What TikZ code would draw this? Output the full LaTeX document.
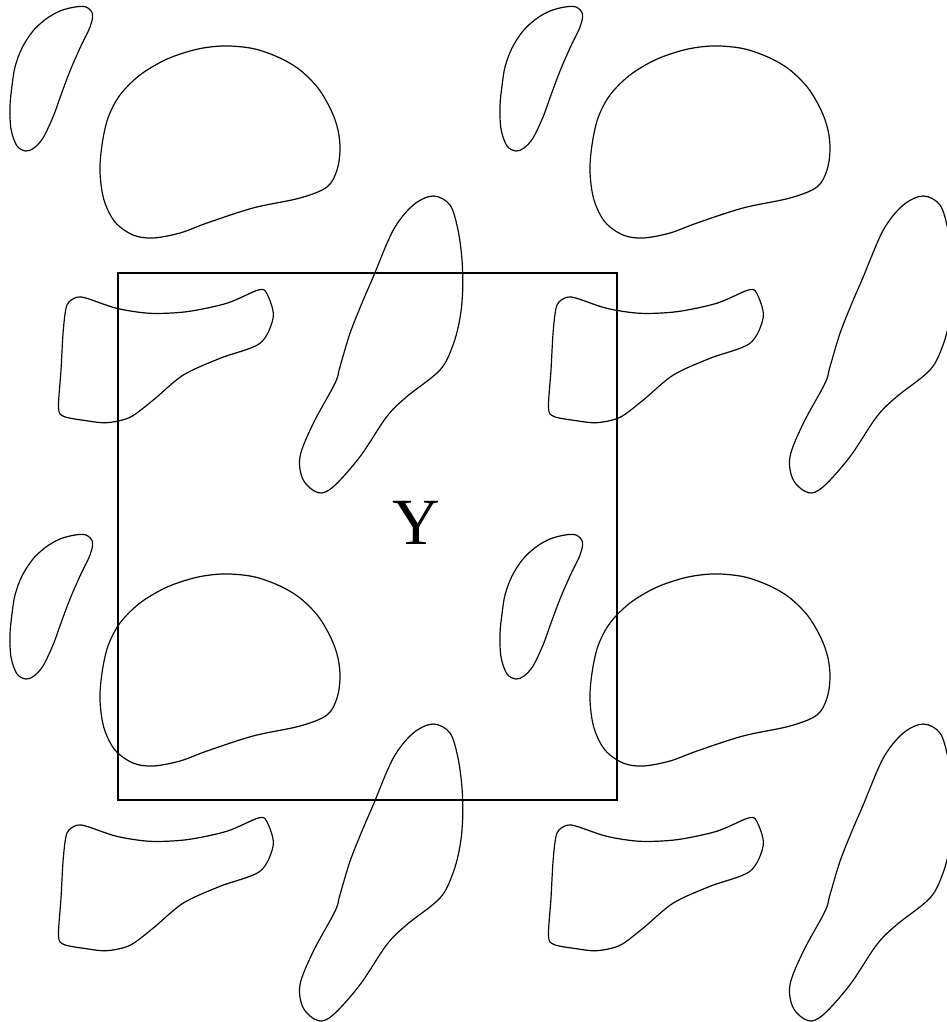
\documentclass[tikz,border=0pt]{standalone}
\usepackage{fontspec}
\setmainfont{Liberation Serif}
\begin{document}
\begin{tikzpicture}[x=1pt,y=-1pt,
  blob/.style={draw=black,line width=1.2pt},
  cellbox/.style={draw=black,line width=1.3pt}]
\useasboundingbox (0,0) rectangle (947,1022);
\clip (0,0) rectangle (947,1022);
\foreach \dx/\dy in {0/0,490/0,0/528,490/528}{
 \begin{scope}[shift={(\dx,\dy)}]
  % small blob
  \draw[blob] plot[smooth cycle,tension=0.55] coordinates{
   (60,11) (75,7) (86,7) (92.5,14) (90,27) (80,48) (70,71) (61,95) (53,117) (43,138) (34,148) (26,151) (17,146) (11,129) (10,106) (12,86) (15,67) (22,48) (33,31) (46,19)};
  % big blob
  \draw[blob] plot[smooth cycle,tension=0.55] coordinates{
   (230,46) (255,49) (280,58) (300,70) (318,88) (331,110) (338,130) (340,150) (337,170) (327,187) (300,198) (253,208) (207,223) (180,233) (153,238) (133,235) (115,222) (104,200) (100,172) (102,145) (108,118) (120,95) (140,75) (165,60) (190,51) (210,47)};
  % boot
  \draw[blob] plot[smooth cycle,tension=0.5] coordinates{
   (76.7,297.3) (67,305) (63.3,330) (61,370) (58.5,408) (64,416.5) (85,420.5) (106.7,422.7) (130,417.3) (153.3,400) (183.3,375) (220,358.3) (260,343.3) (273.3,316.7) (266.7,293.3) (258.3,290) (226.7,303.3) (186.7,311.7) (150,313.3) (116.7,308.3) (86.7,298.3)};
  % long blob
  \draw[blob] plot[smooth cycle,tension=0.55] coordinates{
   (433.3,196) (450,205) (458,230) (462,260) (462.7,290) (460,318) (453,345) (440,370) (406.7,396.7) (386.7,416.7) (360,456.7) (333.3,486.7) (318.3,492.7) (303.3,480) (300,456.7) (313.3,423.3) (335,383.3) (340,366.7) (350,333.3) (362,303) (373.3,276.7) (393.3,230) (413.3,205)};
 \end{scope}}
\node[cellbox,minimum width=499pt,minimum height=527pt,inner sep=0pt] (cell) at (367.5,536.5) {};
\node[font=\fontsize{66}{70}\selectfont,inner sep=0pt] (Y) at (416,523) {Y};
\end{tikzpicture}
\end{document}
